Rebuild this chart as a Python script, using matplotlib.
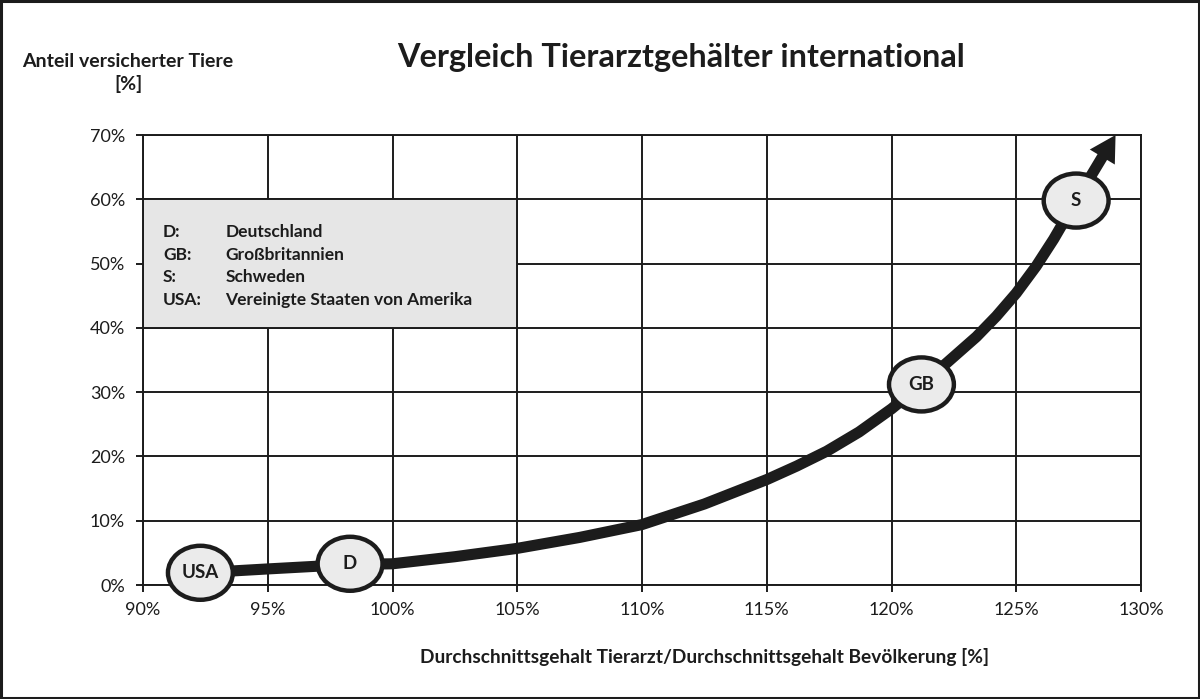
import matplotlib
matplotlib.use("Agg")
import matplotlib.pyplot as plt
from matplotlib.patches import Ellipse, Rectangle, FancyArrowPatch
from matplotlib.ticker import FuncFormatter, MultipleLocator

plt.rcParams['font.family'] = ['Lato', 'DejaVu Sans']

# ---- data ----
title = "Vergleich Tierarztgehälter international"
y_label = "Anteil versicherter Tiere\n[%]"
x_label = "Durchschnittsgehalt Tierarzt/Durchschnittsgehalt Bevölkerung [%]"

countries = ["USA", "D", "GB", "S"]
country_x = [92.3, 98.3, 121.2, 127.4]
country_y = [1.9, 3.3, 31.2, 59.8]

curve_x = [92.3, 95.0, 98.3, 100.0, 102.5, 105.0, 107.5, 110.0, 112.5, 115.0,
           116.2, 117.4, 118.7, 120.0, 121.2, 122.2, 123.4, 124.2, 125.0,
           125.8, 126.5, 127.4]
curve_y = [1.9, 2.5, 3.2, 3.3, 4.4, 5.7, 7.4, 9.4, 12.6, 16.4,
           18.5, 20.8, 23.8, 27.4, 31.2, 34.5, 38.6, 41.8, 45.4,
           49.6, 53.8, 59.8]
arrow_tip = (128.98, 70.0)

legend_abbr = ["D:", "GB:", "S:", "USA:"]
legend_names = ["Deutschland", "Großbritannien", "Schweden", "Vereinigte Staaten von Amerika"]

x_min, x_max, x_step = 90, 130, 5
y_min, y_max, y_step = 0, 70, 10

# ---- figure ----
fig = plt.figure(figsize=(12, 6.99), dpi=100)
fig.patch.set_facecolor("white")
ax = fig.add_axes([143/1200, 1-585/699, (1141-143)/1200, (585-135)/699])

ink = "#1c1c1c"
ax.set_xlim(x_min, x_max)
ax.set_ylim(y_min, y_max)
ax.xaxis.set_major_locator(MultipleLocator(x_step))
ax.yaxis.set_major_locator(MultipleLocator(y_step))
ax.xaxis.set_major_formatter(FuncFormatter(lambda v, p: f"{v:.0f}%"))
ax.yaxis.set_major_formatter(FuncFormatter(lambda v, p: f"{v:.0f}%"))
ax.grid(True, color=ink, linewidth=1.4, zorder=0)
ax.set_axisbelow(True)
for s in ax.spines.values():
    s.set_color(ink)
    s.set_linewidth(1.4)
ax.tick_params(axis="both", direction="out", length=5, width=1.4, color=ink,
               labelsize=13, labelcolor=ink)
ax.tick_params(axis="x", pad=7)
ax.tick_params(axis="y", pad=8)

# legend box
ax.add_patch(Rectangle((90, 40), 15, 20, facecolor="#e6e6e6", edgecolor=ink,
                       linewidth=1.4, zorder=1))
row_y = [54.9, 51.4, 47.9, 44.4]
for a, n, yy in zip(legend_abbr, legend_names, row_y):
    ax.text(90.8, yy, a, fontsize=12.5, fontweight="bold", color=ink, va="center", zorder=2)
    ax.text(93.3, yy, n, fontsize=12.5, fontweight="bold", color=ink, va="center", zorder=2)

# curve
ax.plot(curve_x, curve_y, color=ink, linewidth=8, solid_capstyle="butt",
        solid_joinstyle="round", zorder=3, clip_on=False)
arrow = FancyArrowPatch((country_x[-1], country_y[-1]), arrow_tip,
                        arrowstyle="simple,head_length=18.5,head_width=21,tail_width=8",
                        mutation_scale=1, shrinkA=0, shrinkB=0,
                        color=ink, linewidth=0, zorder=3, clip_on=False)
ax.add_patch(arrow)

# ellipses
for c, cx, cy in zip(countries, country_x, country_y):
    ax.add_patch(Ellipse((cx, cy), 2.6, 8.4, facecolor="#ebebeb", edgecolor=ink,
                         linewidth=3.2, zorder=4, clip_on=False))
    ax.text(cx, cy, c, ha="center", va="center", fontsize=13.5,
            fontweight="bold", color=ink, zorder=5)

# texts
fig.text(681/1200, 1-58/699, title, ha="center", va="center", fontsize=23.3,
         fontweight="bold", color=ink)
fig.text(128/1200, 1-73/699, y_label, ha="center", va="center", fontsize=14,
         fontweight="bold", color=ink, linespacing=1.35)
fig.text(705/1200, 1-657/699, x_label, ha="center", va="center", fontsize=13.8,
         fontweight="bold", color=ink)

# frame
fig.add_artist(Rectangle((0.001, 0.0015), 0.998, 0.997, transform=fig.transFigure,
                         fill=False, edgecolor=ink, linewidth=2.2))

fig.savefig("out.png", dpi=100, facecolor="white")
